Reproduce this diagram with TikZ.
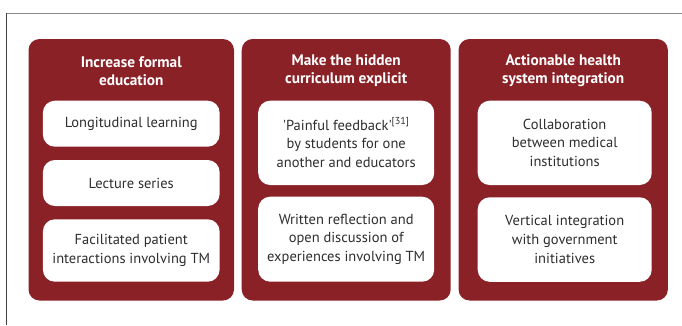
\documentclass[tikz,border=0pt]{standalone}
\usepackage{fontspec}
\setmainfont{PT Sans}
\usetikzlibrary{positioning}
\definecolor{wine}{HTML}{8A2127}
\definecolor{ink}{HTML}{2E2E2E}
\tikzset{
    frameline/.style = {line width=0.9pt},
    panel/.style = {fill=wine,rounded corners=11pt,minimum height=261.5pt,inner sep=0,outer sep=0},
    heading/.style = {text=white,font=\bfseries\fontsize{15.3}{18}\selectfont,align=center},
    item/.style = {fill=white,rounded corners=12pt,text=ink,font=\fontsize{14.5}{18.8}\selectfont,
        align=center,inner sep=0,outer sep=0}
}

\begin{document}
\begin{tikzpicture}[x=1pt,y=1pt]
        \useasboundingbox (0,0) rectangle (682,325);
        \newcommand\boxtop{61.7pt}
        % Frame
        \path (6.5,0) coordinate (fbot)
            (6.5,312) coordinate (fcorner)
            (682,312) coordinate (fend)
        ;
        \draw[frameline,draw=black!75] (fbot) -- (fcorner);
        \draw[frameline,draw=black!45] (fcorner) -- (fend);
        % Panels
        \path (131.25,155.25) node[panel,minimum width=205.5pt] (edu) {}
            (346.2,155.25) node[panel,minimum width=209pt] (hidden) {}
            (563.2,155.25) node[panel,minimum width=209.3pt] (system) {}
        ;
        % Headings
        \foreach \pan/\txt in {edu/{Increase formal\\education},
                hidden/{Make the hidden\\curriculum explicit},
                system/{Actionable health\\system integration}}
            \node[heading] (\pan-head) at ([yshift=-32pt]\pan.north) {\txt};
        % Increase formal education
        \node[item,minimum width=176.7pt,minimum height=46pt,below=\boxtop of edu.north] (long)
            {Longitudinal learning};
        \node[item,minimum width=176.7pt,minimum height=46pt,below=13.3pt of long] (lect)
            {Lecture series};
        \node[item,minimum width=176.7pt,minimum height=62.4pt,below=13.3pt of lect] (patient)
            {Facilitated patient\\interactions involving TM};
        % Hidden curriculum
        \node[item,minimum width=176pt,minimum height=84.3pt,below=\boxtop of hidden.north] (pain)
            {\textquotesingle Painful feedback\textquotesingle\textsuperscript{[31]}\\by students for one\\another and educators};
        \node[item,minimum width=176pt,minimum height=85pt,below=11.7pt of pain] (reflect)
            {Written reflection and\\open discussion of\\experiences involving TM};
        % Health system integration
        \node[item,minimum width=174pt,minimum height=84.3pt,below=\boxtop of system.north,xshift=1.5pt] (collab)
            {Collaboration\\between medical\\institutions};
        \node[item,minimum width=174pt,minimum height=84.5pt,below=12.3pt of collab] (vert)
            {Vertical integration\\with government\\initiatives};
\end{tikzpicture}
\end{document}
